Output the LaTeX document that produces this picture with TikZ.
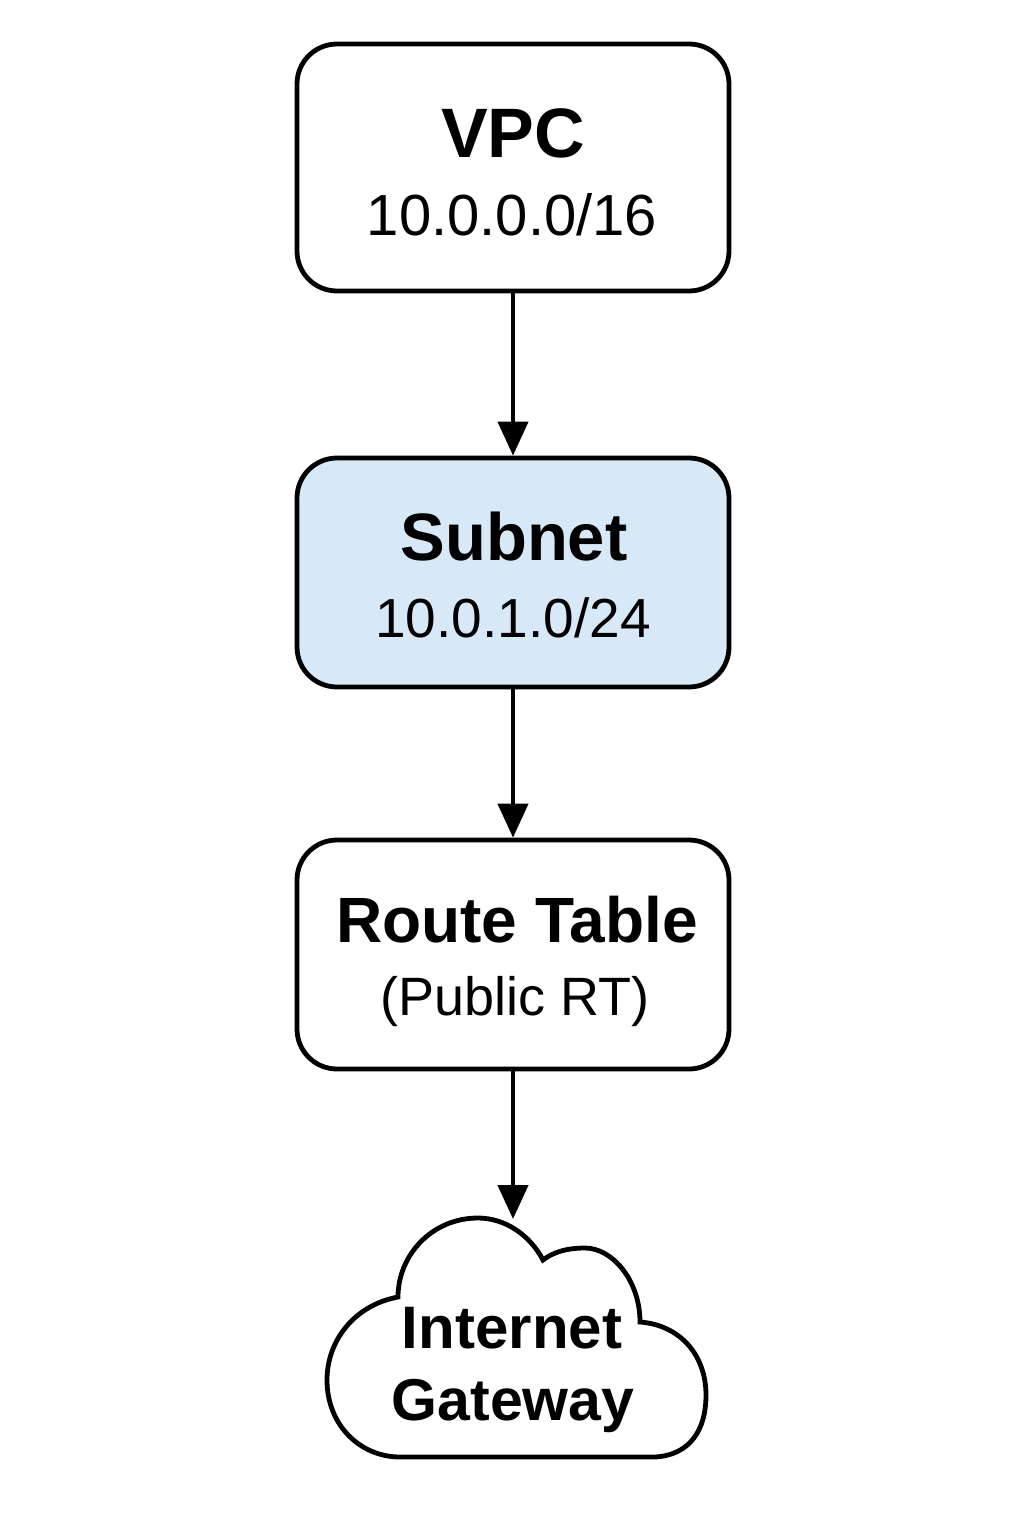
\documentclass[tikz,border=0pt]{standalone}
\usepackage{fontspec}
\setmainfont{Liberation Sans}
\usetikzlibrary{arrows.meta}
\definecolor{subnetblue}{HTML}{D7E9F7}
\tikzset{
  box/.style={draw=black, line width=2.4pt, rounded corners=20pt, minimum width=216pt, inner sep=0pt, fill=white},
  conn/.style={line width=2.2pt, -{Triangle[width=15pt,length=17pt]}},
  lbl/.style={anchor=base, inner sep=0pt},
}
\begin{document}
\begin{tikzpicture}[x=0.5pt,y=-0.5pt]
\useasboundingbox (0,0) rectangle (1024,1536);
% boxes
\node[box, minimum height=123.5pt] (vpc) at (513,167.5) {};
\node[box, minimum height=114.5pt, fill=subnetblue] (subnet) at (513,572.5) {};
\node[box, minimum height=114.5pt] (rt) at (513,954.5) {};
% labels
\node[lbl] (vpcT) at (513,157) {\fontsize{35}{40}\selectfont\bfseries VPC};
\node[lbl] (vpcS) at (512,235) {\fontsize{29}{34}\selectfont 10.0.0.0/16};
\node[lbl] (subT) at (514,560) {\fontsize{33.5}{40}\selectfont\bfseries Subnet};
\node[lbl] (subS) at (513,637) {\fontsize{27.5}{32}\selectfont 10.0.1.0/24};
\node[lbl] (rtT) at (517,942) {\fontsize{32}{38}\selectfont\bfseries Route Table};
\node[lbl] (rtS) at (515,1015) {\fontsize{27}{32}\selectfont (Public RT)};
% cloud
\draw[line width=2.4pt, fill=white]
  (400,1457) -- (655,1457)
  .. controls (690,1455) and (706,1430) .. (706,1395)
  .. controls (706,1355) and (680,1325) .. (640,1322)
  .. controls (640,1280) and (612,1248) .. (585,1248)
  .. controls (565,1248) and (552,1253) .. (543,1260)
  .. controls (530,1235) and (505,1218) .. (478,1218)
  .. controls (432,1218) and (398,1255) .. (398,1297)
  .. controls (355,1305) and (327,1340) .. (327,1380)
  .. controls (327,1425) and (360,1457) .. (400,1457) -- cycle;
\coordinate (cloudtop) at (513,1219);
\node[lbl] (igw1) at (512,1348) {\fontsize{30}{36}\selectfont\bfseries Internet};
\node[lbl] (igw2) at (513,1420) {\fontsize{29.5}{36}\selectfont\bfseries Gateway};
% connectors
\draw[conn] (vpc.south) -- (subnet.north);
\draw[conn] (subnet.south) -- (rt.north);
\draw[conn] (rt.south) -- (cloudtop);
\end{tikzpicture}
\end{document}
